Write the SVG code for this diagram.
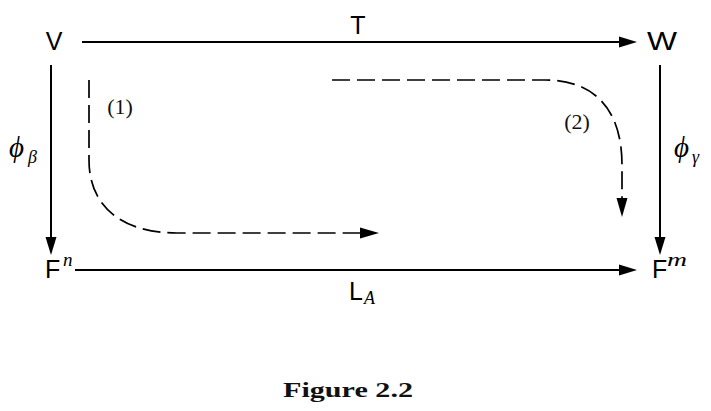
<svg xmlns="http://www.w3.org/2000/svg" width="711" height="411" viewBox="0 0 711 411">
<style>
.sans{font-family:"Liberation Sans",Arial,sans-serif;font-size:25px;fill:#000}
.mi{font-family:"Liberation Serif","DejaVu Serif",serif;font-style:italic;fill:#000}
.rm{font-family:"Liberation Serif","DejaVu Serif",serif;fill:#111}
.solid{fill:none;stroke:#000;stroke-width:2}
.dash{fill:none;stroke:#000;stroke-width:1.7;stroke-dasharray:18 7}
</style>
<defs>
<marker id="ah" markerUnits="userSpaceOnUse" viewBox="0 -6 18 12" markerWidth="18" markerHeight="12" refX="15" refY="0" orient="auto">
<path d="M0,-5.5 L18,0 L0,5.5 Z" fill="#000"/>
</marker>
<marker id="dh" markerUnits="userSpaceOnUse" viewBox="0 -6 19 12" markerWidth="19" markerHeight="12" refX="0" refY="0" orient="auto">
<path d="M0,-5.5 L19,0 L0,5.5 Z" fill="#000"/>
</marker>
</defs>
<g id="connectors">
<line id="T-arrow" class="solid" x1="82" y1="42" x2="634" y2="42" marker-end="url(#ah)"/>
<line id="LA-arrow" class="solid" x1="75" y1="270" x2="634" y2="270" marker-end="url(#ah)"/>
<line id="phibeta-arrow" class="solid" x1="51" y1="65" x2="51" y2="252" marker-end="url(#ah)"/>
<line id="phigamma-arrow" class="solid" x1="660" y1="65" x2="660" y2="252" marker-end="url(#ah)"/>
<path id="path1" class="dash" d="M89,80 V160 C89,205 120,233 177,233 H360" marker-end="url(#dh)"/>
<path id="path2" class="dash" d="M332,80 H545 C595,80 622,110 622,165 V198" marker-end="url(#dh)"/>
</g>
<g id="V"><text class="sans" x="54" y="50" text-anchor="middle">V</text></g>
<g id="W"><text class="sans" x="662" y="50" text-anchor="middle" textLength="30" lengthAdjust="spacingAndGlyphs">W</text></g>
<g id="Fn"><text class="sans" x="45" y="278">F</text><text class="mi" x="63" y="266" font-size="19">n</text></g>
<g id="Fm"><text class="sans" x="652" y="278">F</text><text class="mi" x="667" y="266" font-size="19" textLength="20" lengthAdjust="spacingAndGlyphs">m</text></g>
<g id="labels">
<text class="sans" x="358" y="34" text-anchor="middle">T</text>
<g id="LA"><text class="sans" x="349" y="300">L</text><text class="mi" x="364" y="304" font-size="18">A</text></g>
<g id="phibeta"><text class="mi" x="9" y="157" font-size="29">ϕ</text><text class="mi" x="28" y="163" font-size="18">β</text></g>
<g id="phigamma"><text class="mi" x="674" y="157" font-size="29">ϕ</text><text class="mi" x="692" y="163" font-size="18">γ</text></g>
<text class="rm" x="120" y="114" font-size="22" text-anchor="middle">(1)</text>
<text class="rm" x="577" y="129" font-size="22" text-anchor="middle">(2)</text>
</g>
<text id="caption" class="rm" x="283" y="397" font-size="21" font-weight="bold" textLength="130" lengthAdjust="spacingAndGlyphs">Figure 2.2</text>
</svg>
